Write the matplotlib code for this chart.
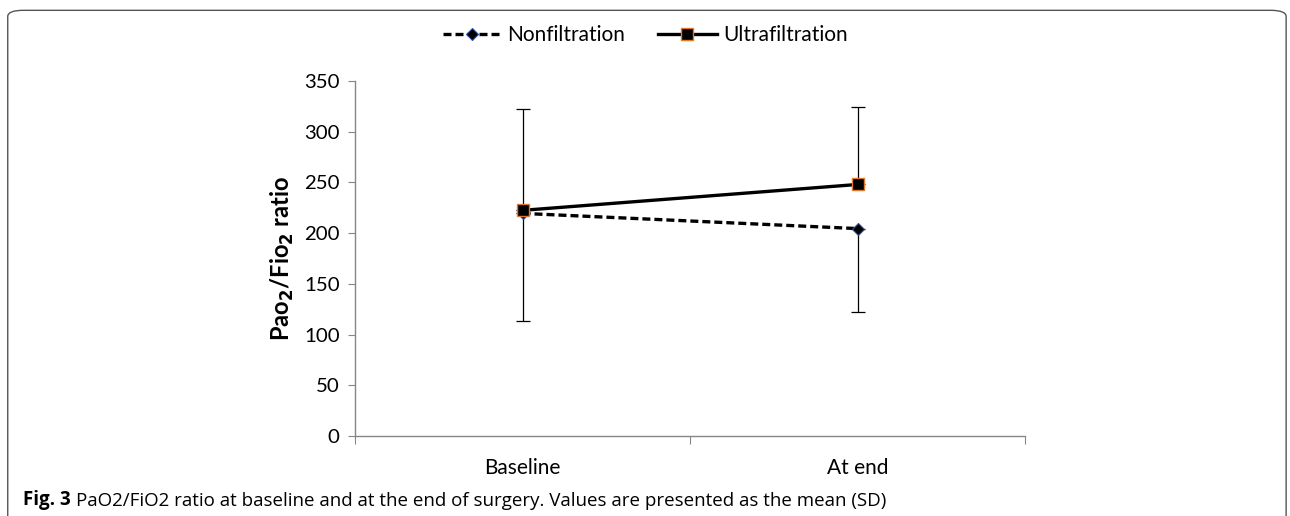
import numpy as np
import matplotlib
matplotlib.use("Agg")
from matplotlib import pyplot as plt
from matplotlib.patches import FancyBboxPatch

# data
categories = ["Baseline", "At end"]
nonfiltration = [219.5, 204.5]
ultrafiltration = [222.5, 248.0]
# SD bars: upper part drawn on ultrafiltration, lower part on nonfiltration
ultra_sd_up = [99.5, 76.0]
nonfil_sd_down = [106.0, 82.0]
yticks = [0, 50, 100, 150, 200, 250, 300, 350]

plt.rcParams['font.family'] = ['Lato', 'DejaVu Sans']

fig = plt.figure(figsize=(12.9, 5.16), dpi=100)
ax = fig.add_axes([0.2752, 0.155, 0.5194, 0.688])

x = np.arange(len(categories)) + 0.5

ax.errorbar(x, ultrafiltration, yerr=[np.zeros(len(x)), ultra_sd_up],
            fmt='none', ecolor='black', elinewidth=0.9, capsize=5, capthick=0.9, zorder=2)
ax.errorbar(x, nonfiltration, yerr=[nonfil_sd_down, np.zeros(len(x))],
            fmt='none', ecolor='black', elinewidth=0.9, capsize=5, capthick=0.9, zorder=2)

ax.plot(x, nonfiltration, linestyle=(0, (2.4, 1.2)), color='black', linewidth=2.4,
        marker='D', markersize=6, markerfacecolor='black', markeredgecolor='#2f4f9f',
        markeredgewidth=0.8, label='Nonfiltration', zorder=3)
ax.plot(x, ultrafiltration, linestyle='-', color='black', linewidth=2.4,
        marker='s', markersize=9, markerfacecolor='black', markeredgecolor='#e0782e',
        markeredgewidth=1.0, label='Ultrafiltration', zorder=4)

ax.set_xlim(0, len(categories))
ax.set_ylim(0, 350)
ax.set_yticks(yticks)
ax.set_yticklabels([str(v) for v in yticks])
ax.set_xticks([0, 1, 2])
ax.set_xticklabels([])
ax.set_xticks(x, minor=True)
ax.set_xticklabels(categories, minor=True)
ax.tick_params(axis='x', which='minor', length=0, pad=16, labelsize=15)
ax.tick_params(axis='x', which='major', length=6, color='#868686', direction='out')
ax.tick_params(axis='y', length=5, color='#868686', labelsize=14.7, pad=6)

for side in ['top', 'right']:
    ax.spines[side].set_visible(False)
for side in ['left', 'bottom']:
    ax.spines[side].set_color('#868686')
    ax.spines[side].set_linewidth(1.0)

# y axis title, placed in figure coords
fig.text(282 / 1290, 0.5, 'Pao$_\\mathbf{2}$/Fio$_\\mathbf{2}$ ratio', fontsize=17,
         fontweight='bold', rotation=90, ha='center', va='center')

leg = fig.legend(loc='center', bbox_to_anchor=(0.5, 0.932), ncol=2, frameon=False,
                 fontsize=15, handlelength=2.8, columnspacing=1.6, handletextpad=0.3)

# caption
cap1 = fig.text(0.018, 0.011, 'Fig. 3', fontsize=13.5, fontweight='bold', family='Open Sans',
                va='bottom', ha='left')
fig.canvas.draw()
bb = cap1.get_window_extent()
fig.text((bb.x1 + 5) / fig.bbox.width, 0.011,
         'PaO2/FiO2 ratio at baseline and at the end of surgery. '
         'Values are presented as the mean (SD)', fontsize=13.5, family='Open Sans',
         va='bottom', ha='left')

# rounded frame around the figure panel
box = FancyBboxPatch((0.006, -0.1), 0.991, 1.08, transform=fig.transFigure,
                     boxstyle='round,pad=0,rounding_size=0.012', fill=False,
                     edgecolor='#555555', linewidth=1.0)
fig.patches.append(box)

fig.savefig('out.png', dpi=100)
